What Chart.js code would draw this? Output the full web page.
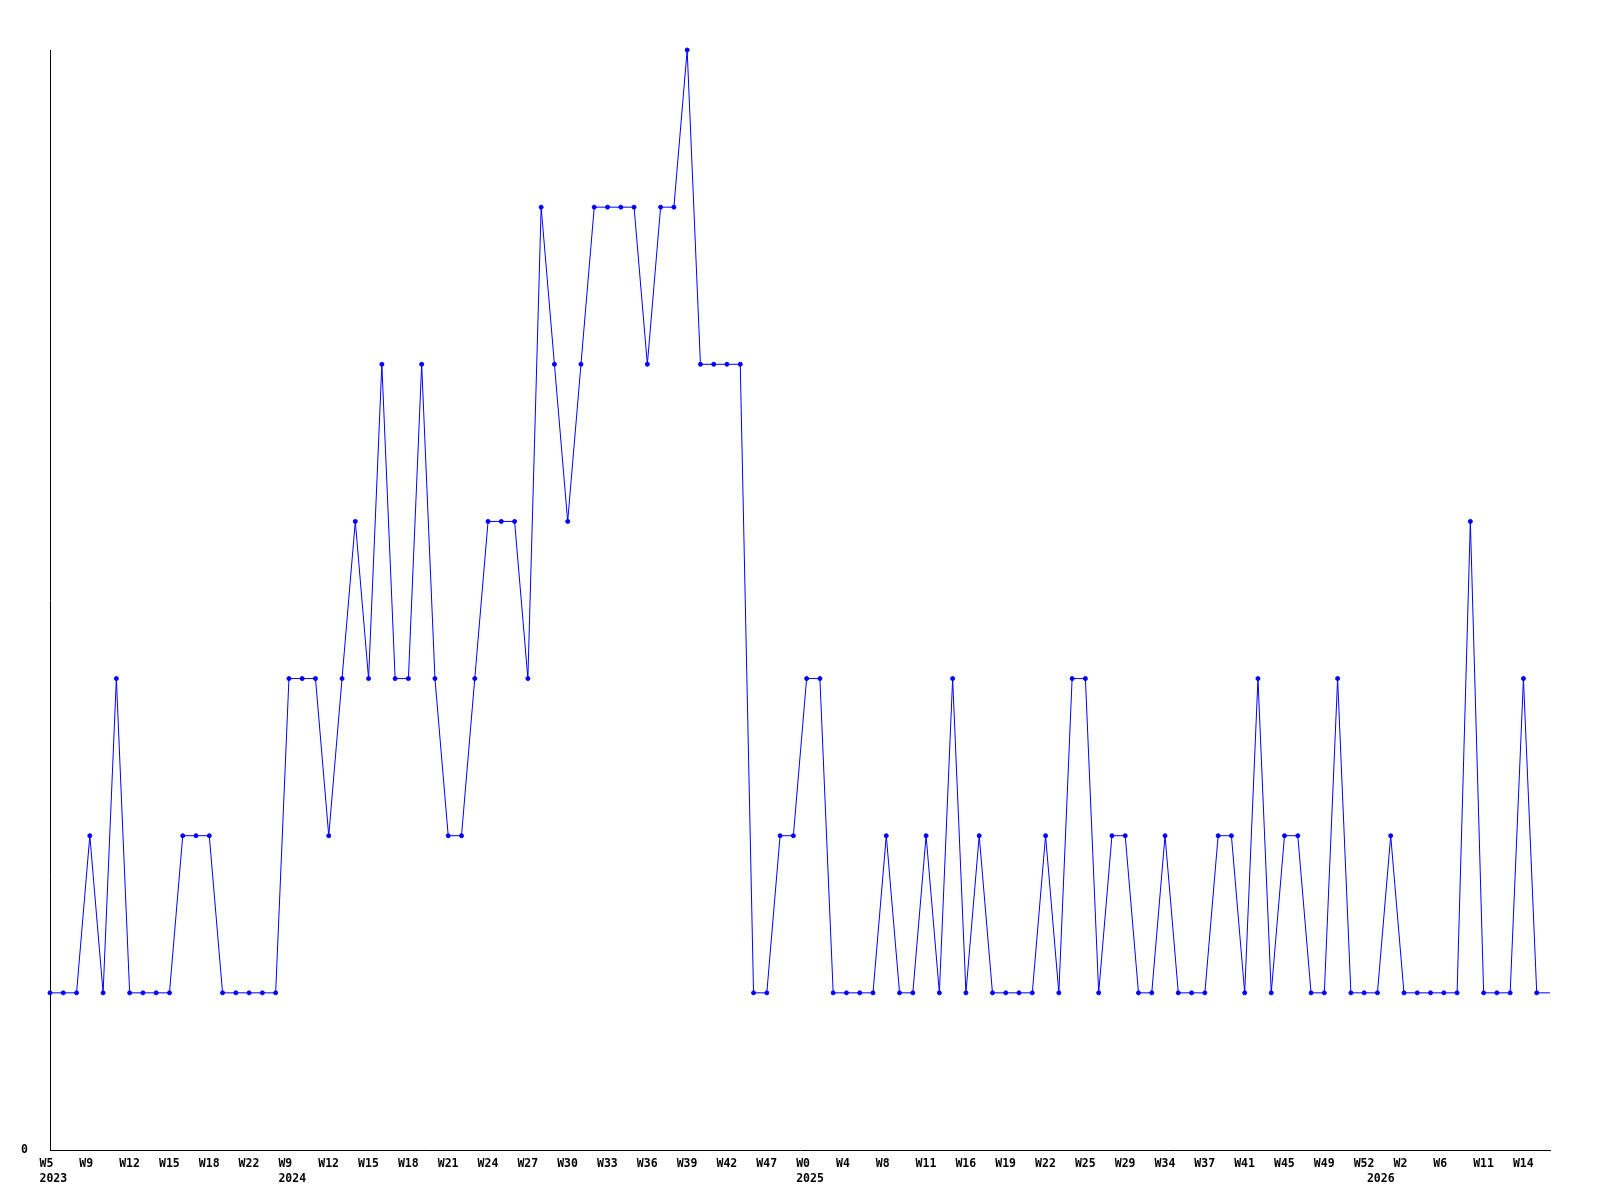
<!DOCTYPE html>
<html>
<head>
<meta charset="utf-8">
<script src="https://cdn.jsdelivr.net/npm/chart.js@4.4.0/dist/chart.umd.min.js"></script>
<style>
    body { margin: 0; background: #fff; }
</style>
</head>
<body>
<canvas id="weekChart" width="1600" height="1200"></canvas>
<script>
// values per week
const values = [
    1, 1, 1, 2, 1, 3, 1, 1, 1, 1, 2, 2, 2, 1, 1, 1, 1, 1, 3, 3, 3, 2,
    3, 4, 3, 5, 3, 3, 5, 3, 2, 2, 3, 4, 4, 4, 3, 6, 5, 4, 5,
    6, 6, 6, 6, 5, 6, 6, 7, 5, 5, 5, 5,
    1, 1, 2, 2, 3, 3, 1, 1, 1, 1, 2, 1, 1, 2, 1, 3, 1, 2, 1, 1, 1, 1,
    2, 1, 3, 3, 1, 2, 2, 1, 1, 2, 1, 1, 1, 2, 2, 1, 3, 1, 2, 2, 1, 1, 3,
    1, 1, 1, 2, 1, 1, 1, 1, 1, 4, 1, 1, 1, 3, 1, 1
];

// one week label on every third point
const weekTicks = [
    'W5', 'W9', 'W12', 'W15', 'W18', 'W22', 'W9', 'W12', 'W15', 'W18',
    'W21', 'W24', 'W27', 'W30', 'W33', 'W36', 'W39', 'W42', 'W47', 'W0',
    'W4', 'W8', 'W11', 'W16', 'W19', 'W22', 'W25', 'W29', 'W34', 'W37',
    'W41', 'W45', 'W49', 'W52', 'W2', 'W6', 'W11', 'W14'
];

// year shown under the point where it starts
const years = ['2023', '2024', '2025', '2026'];
const yearAt = [0, 18, 57, 100];

const categories = values.map((v, i) => i);

function tickLabel(i) {
    let week = (i % 3 === 0 && weekTicks[i / 3]) ? weekTicks[i / 3] : '';
    let y = yearAt.indexOf(i);
    if (y >= 0) return [week, years[y]];
    return week;
}

const font = { family: 'DejaVu Sans Mono', size: 11.5, weight: 'bold', lineHeight: 1.36 };

new Chart(document.getElementById('weekChart').getContext('2d'), {
    type: 'line',
    data: {
        labels: categories,
        datasets: [{
            data: values,
            borderColor: '#0000ff',
            backgroundColor: '#0000ff',
            borderWidth: 1,
            tension: 0,
            fill: false,
            clip: false,
            pointStyle: 'circle',
            pointRadius: ctx => ctx.dataIndex === values.length - 1 ? 0 : 2,
            pointBorderWidth: 1
        }]
    },
    options: {
        responsive: false,
        animation: false,
        layout: { padding: { top: 50, right: 50, left: 0, bottom: 0 } },
        plugins: {
            legend: { display: false },
            tooltip: { enabled: false }
        },
        scales: {
            x: {
                offset: false,
                grid: { display: false, drawTicks: false },
                border: { display: true, color: '#000', width: 1 },
                ticks: {
                    autoSkip: false,
                    maxRotation: 0,
                    minRotation: 0,
                    align: 'start',
                    labelOffset: -10.5,
                    padding: 6,
                    color: '#000',
                    font: font,
                    callback: function (val, i) { return tickLabel(i); }
                },
                afterFit: function (scale) { scale.height = 50; }
            },
            y: {
                min: 0,
                max: 7,
                grid: { display: false, drawTicks: false },
                border: { display: true, color: '#000', width: 1 },
                ticks: {
                    stepSize: 1,
                    padding: 22,
                    color: '#000',
                    font: font,
                    callback: function (v) { return v === 0 ? '0' : ''; }
                },
                afterFit: function (scale) { scale.width = 50; }
            }
        }
    }
});
</script>
</body>
</html>
